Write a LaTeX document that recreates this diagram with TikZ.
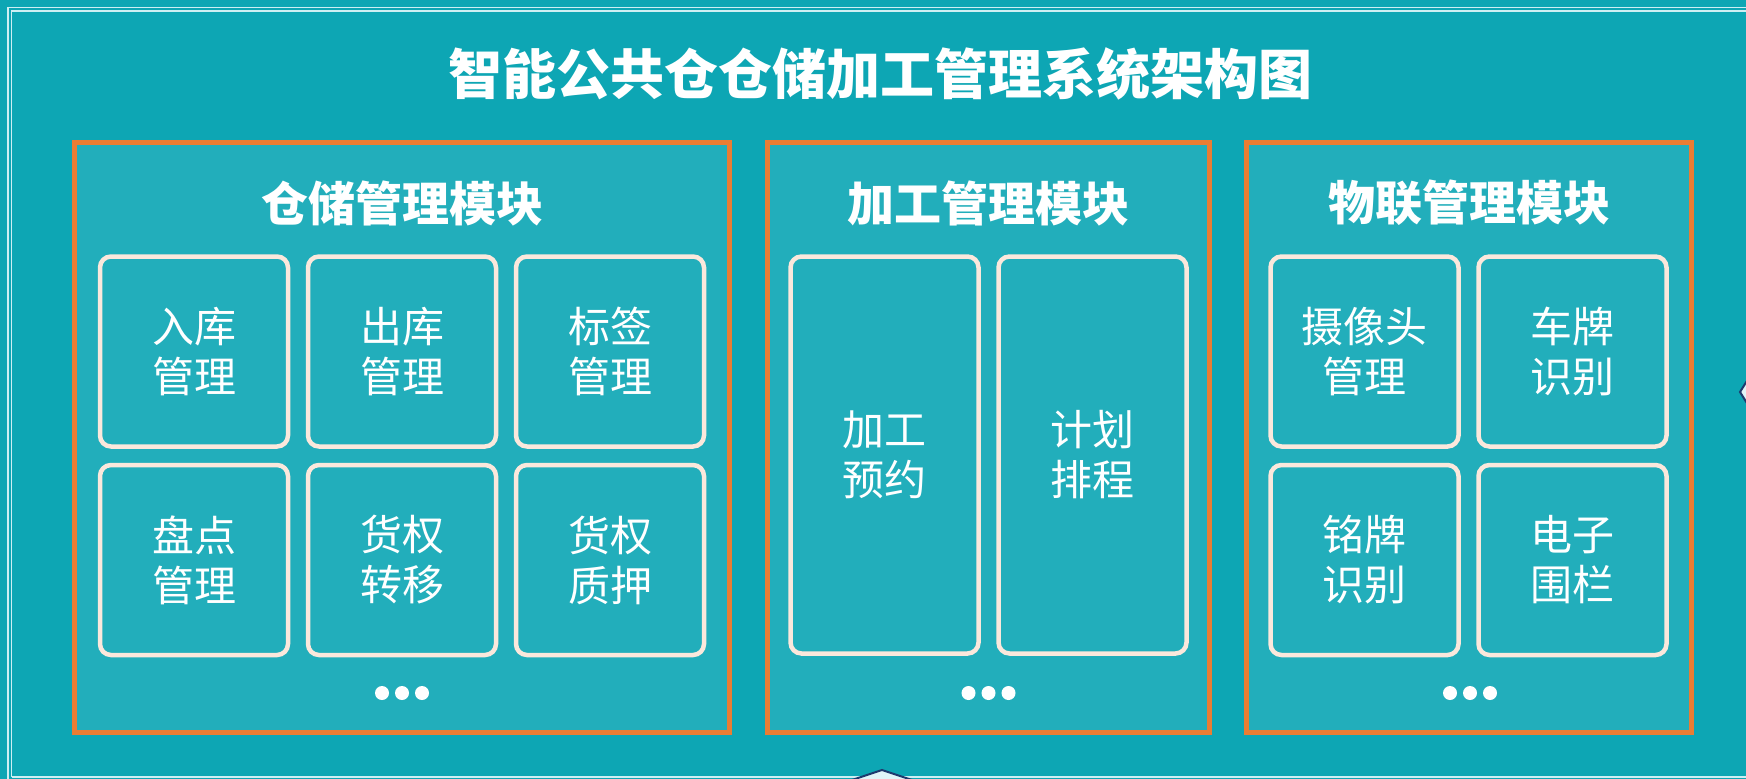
\documentclass[tikz,border=0pt]{standalone}
\usepackage{fontspec}
\newfontfamily\cjk{Noto Sans CJK SC}
\definecolor{bgteal}{HTML}{0DA6B4}
\definecolor{panelteal}{HTML}{22AEBB}
\definecolor{panelorange}{HTML}{EA7D33}
\definecolor{cellcream}{HTML}{FBE8DC}
\definecolor{framecyan}{HTML}{CDEFF3}
\definecolor{marknavy}{HTML}{1F3A6E}

\tikzset{
  panel/.style={draw=panelorange, fill=panelteal, line width=5pt, minimum height=590pt},
  panelhead/.style={text=white, font=\cjk\bfseries\fontsize{47}{50}\selectfont},
  cell/.style={draw=cellcream, line width=4.5pt, rounded corners=11pt, minimum width=188pt,
    text=white, align=center, font=\cjk\fontsize{42}{50}\selectfont},
  moredot/.style={circle, fill=white, inner sep=0pt, minimum size=14pt},
  edgemark/.style={fill=framecyan!60!white, draw=marknavy, line width=2pt}
}

\begin{document}
\begin{tikzpicture}[x=1pt, y=-1pt]
  \fill[bgteal] (0,0) rectangle (1746,779);
  \useasboundingbox (0,0) rectangle (1746,779);

  % double frame
  \draw[framecyan, line width=1.2pt] (8,790) -- (8,7.5) -- (1760,7.5);
  \draw[framecyan, line width=1.2pt] (11.5,777) -- (11.5,11) -- (1760,11);
  \draw[framecyan, line width=1.5pt] (11.5,777) -- (1760,777);

  % cut-off marks at the edges
  \filldraw[edgemark] (1740,392) -- (1760,360) -- (1780,392) -- (1760,424) -- cycle;
  \filldraw[edgemark] (882,770) -- (930,786) -- (882,802) -- (834,786) -- cycle;

  \node[text=white, font=\cjk\bfseries\fontsize{54}{58}\selectfont] (title) at (880,74)
    {智能公共仓仓储加工管理系统架构图};

  % panels
  \node[panel, minimum width=655pt] (store) at (402,437.5) {};
  \node[panel, minimum width=442pt] (work) at (988.5,437.5) {};
  \node[panel, minimum width=445pt] (iot) at (1469,437.5) {};

  \node[panelhead] (storehead) at (402,203) {仓储管理模块};
  \node[panelhead] (workhead) at (988.5,203) {加工管理模块};
  \node[panelhead] (iothead) at (1469,203) {物联管理模块};

  % storage cells
  \foreach \n\i\j\t in {in/194/351.5/入库\\管理, out/402/351.5/出库\\管理, tag/610/351.5/标签\\管理,
                        count/194/560/盘点\\管理, move/402/560/货权\\转移, pledge/610/560/货权\\质押}{
    \node[cell, minimum height=190pt] (\n) at (\i,\j) {\t};
  }

  % processing cells
  \foreach \n\i\t in {book/884.5/加工\\预约, plan/1092.5/计划\\排程}{
    \node[cell, minimum height=397pt] (\n) at (\i,455) {\t};
  }

  % iot cells
  \foreach \n\i\j\t in {cam/1364.5/351.5/摄像头\\管理, plate/1572.5/351.5/车牌\\识别,
                        badge/1364.5/560/铭牌\\识别, fence/1572.5/560/电子\\围栏}{
    \node[cell, minimum height=190pt] (\n) at (\i,\j) {\t};
  }

  % more dots
  \foreach \p in {402,988.5,1470}{
    \foreach \d in {-20,0,20}{
      \node[moredot] at (\p+\d,693) {};
    }
  }
\end{tikzpicture}
\end{document}
